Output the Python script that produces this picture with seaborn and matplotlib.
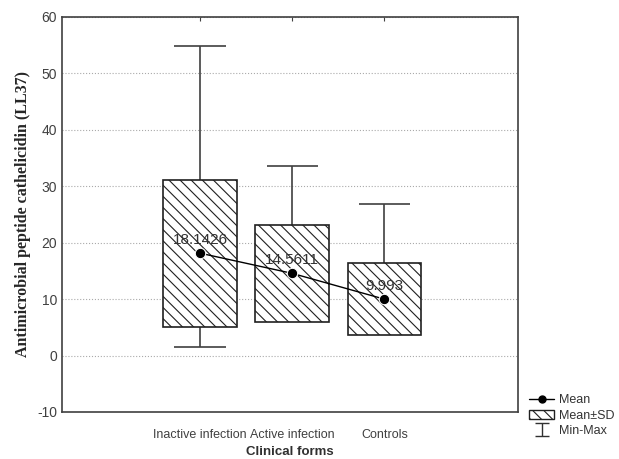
import matplotlib
matplotlib.use("Agg")
import matplotlib.pyplot as plt
import seaborn as sns
import numpy as np
from matplotlib.lines import Line2D
from matplotlib.patches import Patch

# data
groups = ["Inactive infection", "Active infection", "Controls"]
means = [18.1426, 14.5611, 9.993]
sds = [13.0, 8.56, 6.36]
mins = [1.6, 7.0, 4.0]
maxs = [54.9, 33.6, 26.8]
mean_labels = ["18.1426", "14.5611", "9.993"]

sns.set_style("white")
plt.rcParams['font.family'] = ['Liberation Sans', 'DejaVu Sans']
plt.rcParams['axes.unicode_minus'] = False
plt.rcParams['hatch.linewidth'] = 0.8

fig = plt.figure(figsize=(6.19, 4.59), dpi=100)
ax = fig.add_axes([0.1, 0.1024, 0.737, 0.8606])

pos = np.arange(len(groups))

# min-max whiskers (drawn under the boxes)
for i in pos:
    ax.vlines(i, mins[i], maxs[i], color='#404040', lw=1.2, zorder=1)
    ax.hlines([mins[i], maxs[i]], i - 0.28, i + 0.28, color='#404040', lw=1.2, zorder=1)

# mean +- sd boxes
lo = [m - s for m, s in zip(means, sds)]
hi = [2 * s for s in sds]
ax.bar(pos, hi, bottom=lo, width=0.8, color='white', edgecolor='#202020',
       hatch='\\\\\\', lw=1.2, zorder=2)

# means
sns.lineplot(x=pos, y=means, marker='o', color='black', markersize=7.5,
             lw=1, ax=ax, zorder=4)
for i in pos:
    ax.text(i, means[i] + 1.1, mean_labels[i], ha='center', va='bottom',
            fontsize=11, color='#333333', zorder=5)

ax.set_xlim(-1.5, 3.45)
ax.set_ylim(-10, 60)
ax.set_yticks(range(-10, 61, 10))
ax.set_xticks(pos)
ax.set_xticklabels(groups, fontsize=9)
ax.tick_params(axis='y', labelsize=10, direction='in', length=3, colors='#404040')
ax.tick_params(axis='x', direction='in', length=3, top=True, pad=12, colors='#404040')
ax.yaxis.grid(True, ls=':', color='#aaaaaa', lw=0.8)
for s in ax.spines.values():
    s.set_color('#404040')
    s.set_linewidth(1.2)

ax.set_xlabel("Clinical forms", fontsize=9.5, fontweight='bold', color='#303030')
ax.set_ylabel("Antimicrobial peptide cathelicidin (LL37)", fontsize=11.5,
              fontweight='bold', family=['Liberation Serif'])

# legend
eb = ax.errorbar([np.nan], [np.nan], yerr=1, fmt='none', ecolor='#303030',
                 capsize=5, lw=1)
handles = [Line2D([], [], color='black', marker='o', markersize=5, lw=1),
           Patch(facecolor='white', edgecolor='#202020', hatch='\\\\\\'),
           eb]
fig.legend(handles, ["Mean", "Mean\u00b1SD", "Min-Max"], loc='lower left',
           bbox_to_anchor=(0.845, 0.035), frameon=False, fontsize=9,
           handlelength=2.0, handletextpad=0.4, labelspacing=0.25,
           borderpad=0, labelcolor='#333333')

fig.savefig("out.png", dpi=100)
